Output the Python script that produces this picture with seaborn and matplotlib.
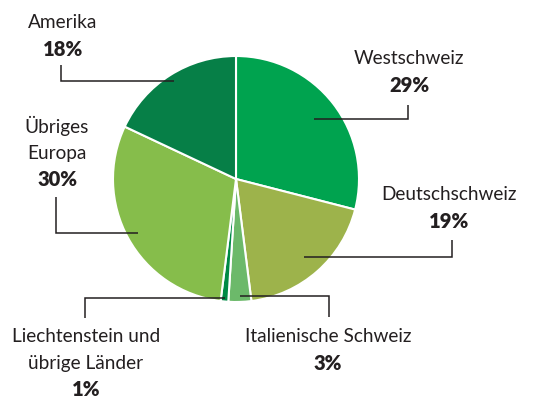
import numpy as np
import matplotlib
matplotlib.use("Agg")
import matplotlib.pyplot as plt
import seaborn as sns

categories = ["Westschweiz", "Deutschschweiz", "Italienische Schweiz",
              "Liechtenstein und\nübrige Länder", "Übriges\nEuropa", "Amerika"]
values = [29, 19, 3, 1, 30, 18]
pct_labels = ["29%", "19%", "3%", "1%", "30%", "18%"]
colors = ["#00a34f", "#9db34b", "#6cb96a", "#008a45", "#86bd4b", "#067f47"]

sns.set_style("white")
plt.rcParams['font.family'] = ['Lato', 'DejaVu Sans']

W, H = 536, 401
fig = plt.figure(figsize=(W / 100, H / 100), dpi=100)
ax = fig.add_axes([0, 0, 1, 1])

cx, cy, R = 236, H - 179, 123
wedges, _ = ax.pie(values, colors=colors, startangle=90, counterclock=False,
                   center=(cx, cy), radius=R, frame=True,
                   wedgeprops=dict(edgecolor="white", linewidth=1.5))
ax.set_xlim(0, W)
ax.set_ylim(0, H)
ax.set_aspect("equal")
ax.axis("off")

layout = [
    dict(rf=0.80, ex=408, ey=105, tx=409, ty=58),
    dict(rf=0.84, ex=452, ey=240, tx=449, ty=194),
    dict(rf=0.95, ex=329, ey=317, tx=328, ty=337),
    dict(rf=0.97, ex=85, ey=318, tx=86, ty=336),
    dict(rf=0.91, ex=56, ey=197, tx=57, ty=126),
    dict(rf=0.94, ex=61, ey=65, tx=63, ty=23),
]
line_h = 27
txtcol = "#231f20"
for w, lab, pct, L in zip(wedges, categories, pct_labels, layout):
    ang = np.deg2rad((w.theta1 + w.theta2) / 2)
    axp = cx + L["rf"] * R * np.cos(ang)
    ayp = cy + L["rf"] * R * np.sin(ang)
    ax.plot([axp, L["ex"], L["ex"]], [ayp, ayp, H - L["ey"]],
            color="#231f20", lw=1.1, solid_capstyle="butt", solid_joinstyle="miter")
    y = L["ty"]
    for ln in lab.split("\n"):
        ax.text(L["tx"], H - y, ln, ha="center", va="center", fontsize=13.7,
                color=txtcol)
        y += line_h
    ax.text(L["tx"], H - y, pct, ha="center", va="center", fontsize=14.5,
            fontweight="heavy", color=txtcol)

fig.savefig("out.png", dpi=100)
